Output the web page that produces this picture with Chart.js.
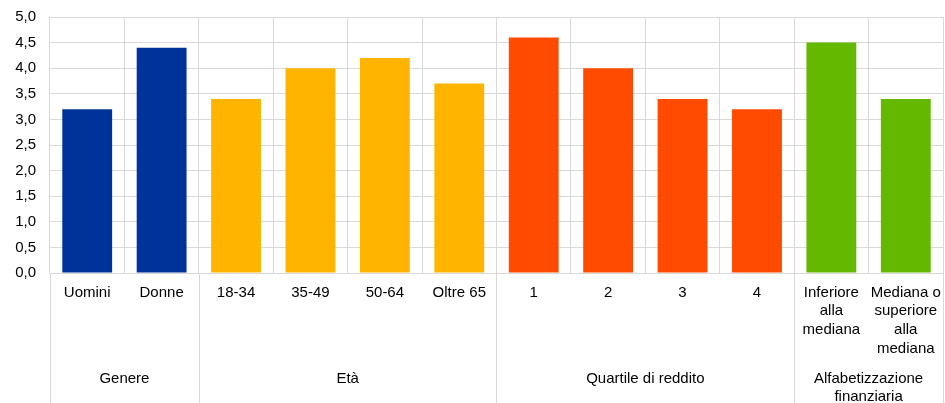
<!DOCTYPE html>
<html>
<head>
<meta charset="utf-8">
<script src="https://cdn.jsdelivr.net/npm/chart.js@4/dist/chart.umd.min.js"></script>
<style>
html,body{margin:0;padding:0;background:#fff;}
#wrap{width:945px;height:403px;position:relative;}
</style>
</head>
<body>
<div id="wrap"><canvas id="c" width="945" height="403"></canvas></div>
<script>
const categories = ['Uomini','Donne','18-34','35-49','50-64','Oltre 65','1','2','3','4',['Inferiore','alla','mediana'],['Mediana o','superiore','alla','mediana']];
const values = [3.2,4.4,3.4,4.0,4.2,3.7,4.6,4.0,3.4,3.2,4.5,3.4];
const groupNames = ['Genere','Età','Quartile di reddito',['Alfabetizzazione','finanziaria']];
const groupStart = [0,2,6,10];
const groupEnd = [1,5,9,11];
const groupColors = ['#003399','#FFB400','#FF4B00','#65B800'];
const yTicks = [0,0.5,1,1.5,2,2.5,3,3.5,4,4.5,5];

const barColors = values.map((v,i)=>{
  let g = 0;
  for (let k=0;k<groupStart.length;k++) if (i>=groupStart[k] && i<=groupEnd[k]) g=k;
  return groupColors[g];
});

const FONT = {family:'"Liberation Sans", Arial, sans-serif', size:15, lineHeight:1.25};

const groupPlugin = {
  id:'groups',
  afterDraw(chart){
    const ctx = chart.ctx, x = chart.scales.x, area = chart.chartArea;
    const H = chart.height;
    const boundary = (i) => {
      if (i<=0) return area.left;
      if (i>=values.length) return area.right;
      return (x.getPixelForValue(i-1)+x.getPixelForValue(i))/2;
    };
    ctx.save();
    ctx.strokeStyle = '#d9d9d9';
    ctx.lineWidth = 1;
    const seps = [0];
    groupEnd.forEach(e=>seps.push(e+1));
    seps.forEach(i=>{
      const px = Math.round(boundary(i))+0.5;
      ctx.beginPath(); ctx.moveTo(px, area.bottom); ctx.lineTo(px, H); ctx.stroke();
    });
    ctx.fillStyle = '#000';
    ctx.font = FONT.size+'px '+FONT.family;
    ctx.textAlign = 'center';
    ctx.textBaseline = 'middle';
    groupNames.forEach((name,k)=>{
      const cx = (boundary(groupStart[k]) + boundary(groupEnd[k]+1))/2;
      const lines = Array.isArray(name)?name:[name];
      lines.forEach((t,j)=>ctx.fillText(t, cx, 379 + j*18));
    });
    ctx.restore();
  }
};

new Chart(document.getElementById('c'), {
  type:'bar',
  data:{
    labels: categories,
    datasets:[{data: values, backgroundColor: barColors, borderWidth:0, categoryPercentage:1, barPercentage:0.67}]
  },
  options:{
    responsive:false,
    animation:false,
    devicePixelRatio:1,
    layout:{padding:{top:17,right:2,left:0,bottom:0}},
    plugins:{legend:{display:false},tooltip:{enabled:false}},
    scales:{
      x:{
        grid:{color:'#d9d9d9',drawTicks:false,offset:true},
        border:{color:'#d9d9d9'},
        ticks:{color:'#000',font:FONT,padding:10,maxRotation:0,autoSkip:false},
        afterFit(s){ s.height = 130; s.paddingLeft = 0; s.paddingRight = 0; }
      },
      y:{
        min:0,max:5,
        grid:{color:'#d9d9d9',drawTicks:false},
        border:{display:false},
        afterBuildTicks(s){ s.ticks = yTicks.map(v=>({value:v})); },
        ticks:{color:'#000',font:FONT,padding:14,callback:v=>v.toFixed(1).replace('.',',')},
        afterFit(s){ s.width = 50; s.paddingTop = 0; s.paddingBottom = 0; }
      }
    }
  },
  plugins:[groupPlugin]
});
</script>
</body>
</html>
